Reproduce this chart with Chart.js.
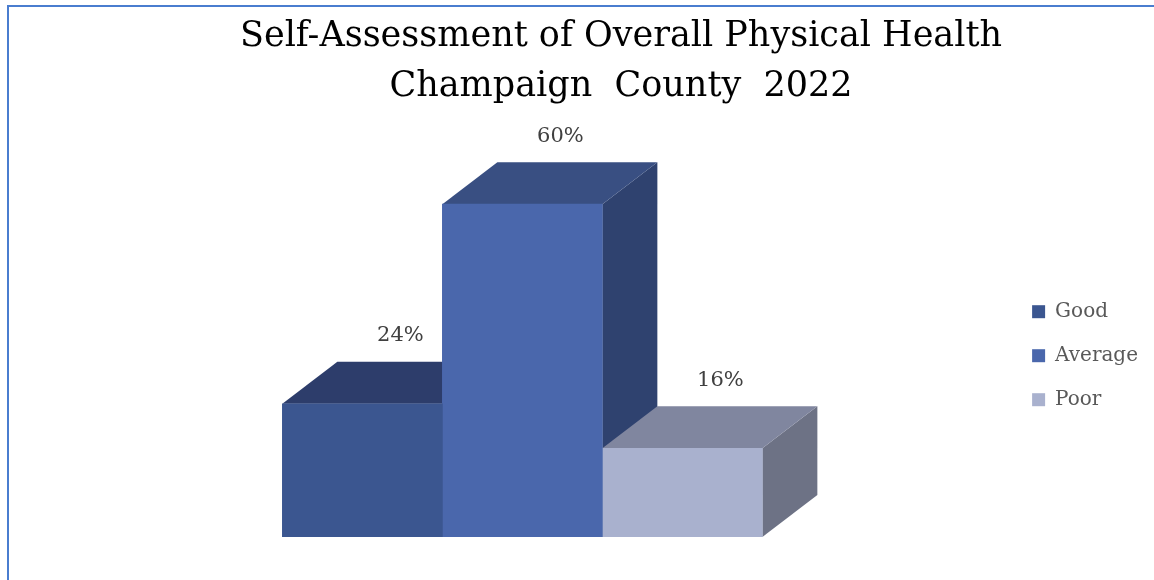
<!DOCTYPE html>
<html>
<head>
<meta charset="utf-8">
<script src="https://cdn.jsdelivr.net/npm/chart.js@4"></script>
<style>
  html, body { margin: 0; padding: 0; background: #fff; overflow: hidden; }
  .frame {
    position: absolute; left: 7px; top: 5px; width: 1200px; height: 600px;
    border-left: 2px solid #4A7DCF; border-top: 2px solid #4A7DCF;
  }
  .wrap { position: absolute; left: 0; top: 0; width: 1154px; height: 580px; }
</style>
</head>
<body>
<div class="frame"></div>
<div class="wrap"><canvas id="myChart"></canvas></div>
<script>
const titleLines = ['Self-Assessment of Overall Physical Health', 'Champaign  County  2022'];
const seriesNames = ['Good', 'Average', 'Poor'];
const seriesValues = [24, 60, 16];

// front / top / side colours for the fake 3D boxes
const frontColors = ['#3B5690', '#4A67AC', '#A9B1CE'];
const topColors = ['#2D3D6B', '#394F82', '#80869F'];
const sideColors = ['#2A3A66', '#2F426F', '#6D7285'];
const depthX = 55, depthY = -42;

const boxes3d = {
  id: 'boxes3d',
  // sides and tops first, left to right, then chart.js paints the front faces over them
  beforeDatasetsDraw(chart) {
    const ctx = chart.ctx;
    chart.data.datasets.forEach((ds, i) => {
      chart.getDatasetMeta(i).data.forEach(bar => {
        const l = bar.x - bar.width / 2, r = bar.x + bar.width / 2;
        const t = bar.y, b = bar.base;
        ctx.save();
        ctx.fillStyle = sideColors[i];
        ctx.beginPath();
        ctx.moveTo(r, t); ctx.lineTo(r + depthX, t + depthY);
        ctx.lineTo(r + depthX, b + depthY); ctx.lineTo(r, b);
        ctx.closePath(); ctx.fill();
        ctx.fillStyle = topColors[i];
        ctx.beginPath();
        ctx.moveTo(l, t); ctx.lineTo(l + depthX, t + depthY);
        ctx.lineTo(r + depthX, t + depthY); ctx.lineTo(r, t);
        ctx.closePath(); ctx.fill();
        ctx.restore();
      });
    });
  },
  afterDatasetsDraw(chart) {
    const ctx = chart.ctx;
    ctx.save();
    ctx.font = '21px "DejaVu Serif"';
    ctx.fillStyle = '#404040';
    ctx.textAlign = 'center';
    ctx.textBaseline = 'middle';
    chart.data.datasets.forEach((ds, i) => {
      chart.getDatasetMeta(i).data.forEach((bar, j) => {
        ctx.fillText(ds.data[j].y + '%', bar.x + 38, bar.y - 68);
      });
    });
    ctx.restore();
  }
};

const chartConfig = {
  type: 'bar',
  data: {
    datasets: seriesNames.map((name, i) => ({
      label: name,
      data: [{ x: 0, y: seriesValues[i] }],
      backgroundColor: frontColors[i],
      barThickness: 160
    }))
  },
  options: {
    responsive: false,
    animation: false,
    layout: { padding: { left: 94, right: 6, top: 0, bottom: 43 } },
    scales: {
      x: { type: 'linear', min: -1, max: 1.163, display: false },
      y: { min: 0, max: 65.6, display: false }
    },
    plugins: {
      tooltip: { enabled: false },
      title: {
        display: true,
        text: titleLines,
        color: '#000',
        font: { family: '"DejaVu Serif"', size: 35, weight: 'normal', lineHeight: 1.43 },
        padding: { top: 12, bottom: 61 }
      },
      legend: {
        position: 'right',
        title: { display: true, text: '', padding: { top: 160, bottom: 0 }, font: { size: 12 } },
        labels: {
          boxWidth: 13,
          boxHeight: 13,
          padding: 24,
          color: '#595959',
          font: { family: '"DejaVu Serif"', size: 20 }
        }
      }
    }
  },
  plugins: [boxes3d]
};

const canvas = document.getElementById('myChart');
canvas.width = 1154;
canvas.height = 580;
new Chart(canvas.getContext('2d'), chartConfig);
</script>
</body>
</html>
